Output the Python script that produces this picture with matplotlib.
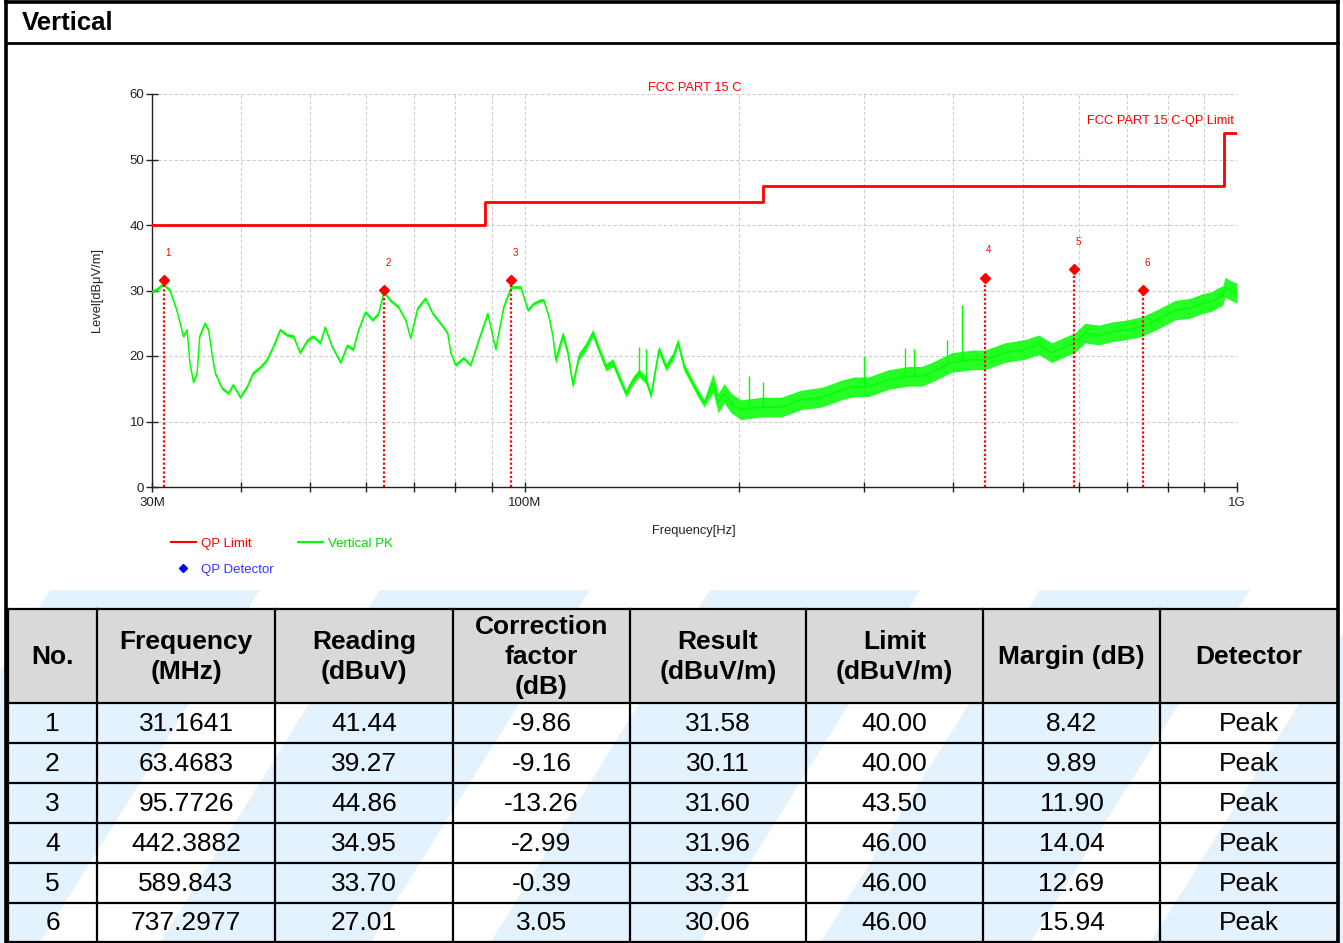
import matplotlib
matplotlib.use("Agg")
import matplotlib.pyplot as plt
from matplotlib.lines import Line2D
from matplotlib.patches import Rectangle, Polygon
from matplotlib.ticker import NullFormatter
import numpy as np

plt.rcParams["font.family"] = ["Liberation Sans", "DejaVu Sans"]

# ---- data ----
limit_edges = [30, 88, 216, 960, 1000]          # MHz
limit_levels = [40, 43.5, 46, 54, 54]            # dBuV/m

pk_freq = [30.0, 30.6, 31.1, 31.8, 32.5, 33.2, 33.6, 33.9, 34.3, 34.7, 35.0, 35.6,
           36.0, 36.4, 36.8, 37.6, 38.4, 39.0, 39.9, 40.8, 41.6, 42.6, 43.5, 44.4,
           45.4, 46.4, 47.4, 48.4, 49.6, 50.5, 51.7, 52.5, 53.7, 55.2, 56.4, 57.5,
           58.5, 59.8, 61.2, 62.4, 63.5, 64.8, 66.5, 68.1, 69.2, 70.8, 72.6, 74.3,
           76.2, 78.0, 78.8, 80.0, 82.1, 84.0, 86.0, 88.8, 91.1, 93.5, 95.8, 98.8,
           101.1, 103.0, 105.4, 106.4, 108.2, 109.6, 110.6, 113.2, 115.0, 116.9, 119.2,
           121.9, 124.7, 127.2, 130.1, 133.1, 135.7, 138.8, 142.0, 144.8, 148.1, 150.5,
           154.4, 158.0, 161.6, 164.2, 167.5, 171.3, 175.2, 178.7, 183.9, 187.0, 190.6,
           195.0, 201.4, 214.9, 229.3, 244.6, 261.0, 278.4, 290.4, 303.9, 324.2, 345.9,
           360.8, 372.7, 397.6, 424.2, 442.4, 472.0, 503.6, 527.0, 549.7, 573.3, 592.1,
           611.6, 640.0, 667.6, 700.0, 735.6, 770.0, 818.7, 860.0, 893.6, 920.0, 944.0,
           955.0, 962.0, 980.0, 1000.0]
pk_level = [29.8, 30.3, 31.0, 30.0, 27.0, 23.0, 24.0, 19.0, 16.0, 17.4, 23.0, 25.0,
            24.0, 20.5, 17.4, 15.1, 14.3, 15.6, 13.7, 15.3, 17.4, 18.3, 19.4, 21.4,
            24.0, 23.2, 23.0, 20.5, 22.4, 23.0, 22.0, 24.4, 21.4, 19.0, 21.6, 21.0,
            24.0, 26.7, 25.5, 26.5, 29.8, 28.5, 27.5, 25.5, 22.7, 27.3, 28.8, 26.5,
            25.0, 23.5, 20.5, 18.6, 19.7, 18.6, 22.0, 26.5, 21.0, 27.5, 30.5, 30.5,
            27.0, 28.0, 28.5, 28.5, 26.0, 23.0, 19.4, 23.2, 20.5, 15.6, 19.9,
            21.4, 23.5, 21.0, 18.3, 19.0, 16.8, 14.3, 16.3, 17.4, 16.3, 14.0,
            21.0, 18.3, 19.9, 22.1, 18.3, 16.3, 14.3, 12.8, 15.9, 12.8, 14.3,
            12.8, 11.8, 12.2, 12.2, 13.3, 13.7, 14.8, 15.3, 15.3, 16.4, 16.9,
            16.9, 17.5, 19.0, 19.4, 19.4, 20.5, 21.0, 21.7, 20.5, 21.4, 22.0,
            23.5, 23.2, 23.7, 24.0, 24.5, 25.5, 27.0, 27.3, 28.0, 28.3, 29.0,
            29.2, 30.5, 30.0, 29.6]
# thickness of the noisy trace by band (half width, dB)
spread_edges = [30, 110, 180, 1000]
spread_half = [0.25, 0.6, 1.5]

spike_freq = [144.8, 148.1, 206.7, 216.3, 300.0, 341.5, 351.6, 391.2, 410.7]
spike_base = [17.4, 16.3, 12.0, 12.2, 15.3, 16.9, 16.9, 19.0, 19.2]
spike_top = [21.4, 21.0, 16.9, 16.0, 20.0, 21.2, 21.0, 22.4, 27.8]

no = [1, 2, 3, 4, 5, 6]
mk_freq = [31.1641, 63.4683, 95.7726, 442.3882, 589.843, 737.2977]
reading = [41.44, 39.27, 44.86, 34.95, 33.70, 27.01]
corr = [-9.86, -9.16, -13.26, -2.99, -0.39, 3.05]
result = [31.58, 30.11, 31.60, 31.96, 33.31, 30.06]
limit = [40.00, 40.00, 43.50, 46.00, 46.00, 46.00]
margin = [8.42, 9.89, 11.90, 14.04, 12.69, 15.94]
detector = ["Peak"] * 6

headers = ["No.", "Frequency\n(MHz)", "Reading\n(dBuV)", "Correction\nfactor\n(dB)",
           "Result\n(dBuV/m)", "Limit\n(dBuV/m)", "Margin (dB)", "Detector"]

RED = "#ff0000"
GREEN = "#00ff00"

fig = plt.figure(figsize=(13.43, 9.43), dpi=100)

# ---- page background: frame, title bar, watermark, table ----
bg = fig.add_axes([0, 0, 1, 1], zorder=0)
bg.set_xlim(0, 1343)
bg.set_ylim(943, 0)
bg.axis("off")

for x0 in [-170, 160, 490, 820, 1150]:
    bg.add_patch(Polygon([(x0, 943), (x0 + 210, 943), (x0 + 430, 590), (x0 + 220, 590)],
                         closed=True, fc="#e3f2fc", ec="none"))

bg.add_patch(Rectangle((8, 609), 1330, 94, fc="#d9d9d9", ec="none"))
col_x = [8, 97, 275, 453, 630, 806, 983, 1160, 1338]
row_y = [609, 703, 743, 783, 823, 863, 903, 942]
for y in row_y:
    bg.plot([8, 1338], [y, y], color="black", lw=1.6)
for x in col_x:
    bg.plot([x, x], [609, 942], color="black", lw=1.6)

bg.plot([6, 6], [0, 943], color="black", lw=2.6)
bg.plot([1338, 1338], [0, 943], color="black", lw=2.6)
bg.plot([6, 1338], [2, 2], color="black", lw=2.6)
bg.plot([6, 1338], [43, 43], color="black", lw=2)
bg.text(22, 23, "Vertical", fontsize=18.5, fontweight="bold", va="center", ha="left")

centers = [(col_x[i] + col_x[i + 1]) / 2 for i in range(8)]
for c, h in zip(centers, headers):
    bg.text(c, 657, h, fontsize=19, fontweight="bold", ha="center", va="center",
            linespacing=1.32)

rows = []
for i in range(6):
    rows.append([str(no[i]), str(mk_freq[i]), f"{reading[i]:.2f}", f"{corr[i]:.2f}",
                 f"{result[i]:.2f}", f"{limit[i]:.2f}", f"{margin[i]:.2f}", detector[i]])
for r, vals in enumerate(rows):
    yc = (row_y[r + 1] + row_y[r + 2]) / 2
    for c, v in zip(centers, vals):
        bg.text(c, yc + 1, v, fontsize=19, ha="center", va="center")

# ---- spectrum chart ----
ax = fig.add_axes([152 / 1343, 1 - 487 / 943, (1237 - 152) / 1343, (487 - 94) / 943], zorder=2)
ax.set_xscale("log")
ax.set_xlim(30, 1000)
ax.set_ylim(0, 60)
ax.set_xticks([30, 100, 1000])
ax.set_xticklabels(["30M", "100M", "1G"])
ax.set_xticks([40, 50, 60, 70, 80, 90, 200, 300, 400, 500, 600, 700, 800, 900], minor=True)
ax.xaxis.set_minor_formatter(NullFormatter())
ax.set_yticks(range(0, 61, 10))
ax.grid(which="both", axis="x", ls=(0, (3, 2)), color="#cccccc", lw=0.8)
ax.grid(which="major", axis="y", ls=(0, (3, 2)), color="#cccccc", lw=0.8)
ax.set_axisbelow(True)
for s in ["top", "right"]:
    ax.spines[s].set_visible(False)
for s in ["left", "bottom"]:
    ax.spines[s].set_color("#222222")
    ax.spines[s].set_linewidth(1)
ax.tick_params(axis="y", direction="inout", length=9, width=1, labelsize=9.5, pad=1,
               colors="#222222")
ax.tick_params(axis="x", which="both", direction="inout", length=7, width=1,
               labelsize=9.5, pad=4, colors="#222222")

ax.plot(limit_edges, limit_levels, drawstyle="steps-post", color=RED, lw=2, zorder=3)

f = np.array(pk_freq)
lvl = np.array(pk_level)
half = np.array(spread_half)[np.clip(np.searchsorted(spread_edges, f, side="right") - 1, 0, 2)]
ax.fill_between(f, lvl - half, lvl + half, color=GREEN, lw=0, alpha=0.85, zorder=4)
ax.plot(f, lvl, color=GREEN, lw=1, zorder=4)
ax.vlines(spike_freq, spike_base, spike_top, colors=GREEN, lw=1, zorder=4)

ax.vlines(mk_freq, 0, result, colors=RED, linestyles=(0, (1, 1)), lw=1.6, zorder=5)
ax.plot(mk_freq, result, "D", color=RED, ms=5.5, zorder=6)
for n, fr, r in zip(no, mk_freq, result):
    ax.annotate(str(n), (fr, r), xytext=(3, 16), textcoords="offset points",
                color=RED, fontsize=7, ha="center", va="bottom")

ax.set_title("FCC PART 15 C", color=RED, fontsize=9.3, pad=2.5)
ax.text(0.997, 55.9, "FCC PART 15 C-QP Limit", transform=ax.get_yaxis_transform(),
        ha="right", va="center", color=RED, fontsize=9.3)

fig.text(97 / 1343, 1 - 290 / 943, "Level[dB\u03bcV/m]", rotation=90, ha="center",
         va="center", fontsize=9.3, color="#222222")
fig.text(694 / 1343, 1 - 531 / 943, "Frequency[Hz]", ha="center", va="center",
         fontsize=9.3, color="#222222")

handles = [Line2D([], [], color=RED, lw=1.5),
           Line2D([], [], ls="none", marker="D", color="#0000ff", ms=4),
           Line2D([], [], color=GREEN, lw=1.5)]
leg = fig.legend(handles, ["QP Limit", "QP Detector", "Vertical PK"], ncol=2,
                 loc="upper left", bbox_to_anchor=(159 / 1343, 1 - 526 / 943),
                 frameon=False, fontsize=9.5, handlelength=1.9, handletextpad=0.35,
                 columnspacing=1.9, labelspacing=1.0)
for t, c in zip(leg.get_texts(), [RED, "#3333ff", "#00dd00"]):
    t.set_color(c)

fig.savefig("out.png", dpi=100)
